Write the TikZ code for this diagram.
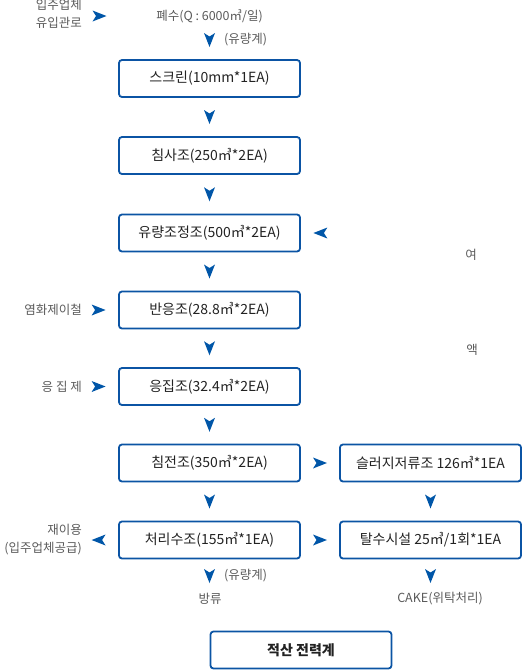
\documentclass[tikz,border=0pt]{standalone}
\usepackage{fontspec}
\setmainfont{Noto Sans CJK KR}
\usetikzlibrary{calc}
\definecolor{bblue}{HTML}{0B54A4}
\definecolor{ablue}{HTML}{0056A8}
\definecolor{lgray}{HTML}{5A5A5A}
\definecolor{tdark}{HTML}{222222}
\tikzset{
  box/.style={draw=bblue, line width=1.8pt, rounded corners=3pt, minimum width=181pt,
    minimum height=37pt, inner sep=0pt, text=tdark, font=\fontsize{14}{16}\selectfont},
  lbl/.style={text=lgray, font=\fontsize{12.5}{18}\selectfont, inner sep=0pt},
  tri/.pic={\fill[ablue] (7,0) -- (-7,-5.5) -- (-3.5,0) -- (-7,5.5) -- cycle;}
}
\begin{document}
\begin{tikzpicture}[x=1pt,y=-1pt]
\useasboundingbox (0,0) rectangle (524,670);
% boxes
\node[box] (b1) at (209.5,78.5) {스크린(10mm*1EA)};
\node[box] (b2) at (209.5,155.5) {침사조(250㎥*2EA)};
\node[box] (b3) at (209.5,233) {유량조정조(500㎥*2EA)};
\node[box] (b4) at (209.5,310) {반응조(28.8㎥*2EA)};
\node[box] (b5) at (209.5,386.5) {응집조(32.4㎥*2EA)};
\node[box] (b6) at (209.5,463) {침전조(350㎥*2EA)};
\node[box] (b7) at (209.5,540) {처리수조(155㎥*1EA)};
\node[box] (r6) at (430.5,463) {슬러지저류조 126㎥*1EA};
\node[box] (r7) at (430.5,540) {탈수시설 25㎥/1회*1EA};
\node[box, font=\fontsize{14}{16}\selectfont\bfseries] (b8) at (301,650) {적산 전력계};
% labels
\node[lbl, align=right, anchor=east] (src) at (82,14) {입주업체\\유입관로};
\node[lbl] (ww) at (209.5,16.5) {폐수(Q : 6000㎥/일)};
\node[lbl, anchor=west] (fm1) at (224,40) {(유량계)};
\node[lbl] (yeo) at (471,255) {여};
\node[lbl] (aek) at (472,350) {액};
\node[lbl, anchor=east] (fe) at (82,310) {염화제이철};
\node[lbl, anchor=east] (coag) at (82,386.5) {응 집 제};
\node[lbl, align=right, anchor=east] (re) at (82,540) {재이용\\(입주업체공급)};
\node[lbl, anchor=west] (fm2) at (224,576) {(유량계)};
\node[lbl] (out) at (210,599) {방류};
\node[lbl] (cake) at (440,599) {CAKE(위탁처리)};
% arrowheads
\pic at (99.5,16) {tri};
\pic[rotate=-90] at (209.5,40) {tri};
\pic[rotate=-90] at ($(b1.south)!0.5!(b2.north)$) {tri};
\pic[rotate=-90] at ($(b2.south)!0.5!(b3.north)$) {tri};
\pic[rotate=-90] at ($(b3.south)!0.5!(b4.north)$) {tri};
\pic[rotate=-90] at ($(b4.south)!0.5!(b5.north)$) {tri};
\pic[rotate=-90] at ($(b5.south)!0.5!(b6.north)$) {tri};
\pic[rotate=-90] at ($(b6.south)!0.5!(b7.north)$) {tri};
\pic[rotate=-90] at ($(r6.south)!0.5!(r7.north)$) {tri};
\pic[rotate=180] at ($(b3.east)+(19.5,0)$) {tri};
\pic at ($(b4.west)+(-19.5,0)$) {tri};
\pic at ($(b5.west)+(-19.5,0)$) {tri};
\pic[rotate=180] at ($(b7.west)+(-19.5,0)$) {tri};
\pic at ($(b6.east)!0.5!(r6.west)$) {tri};
\pic at ($(b7.east)!0.5!(r7.west)$) {tri};
\pic[rotate=-90] at (209.5,576) {tri};
\pic[rotate=-90] at (430.5,576) {tri};
\end{tikzpicture}
\end{document}
